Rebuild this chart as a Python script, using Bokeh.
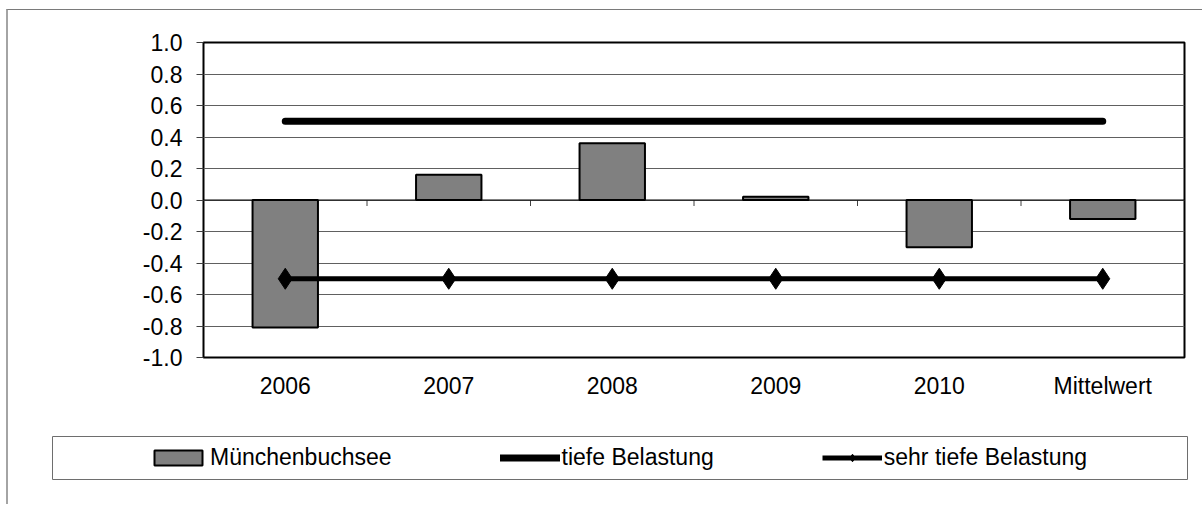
from bokeh.plotting import figure
from bokeh.layouts import column
from bokeh.models import (FactorRange, Range1d, FixedTicker, PrintfTickFormatter, Span,
                          Legend, LegendItem, ColumnDataSource)
from bokeh.embed import file_html
from bokeh.resources import INLINE

# ---- data ----
categories = ["2006", "2007", "2008", "2009", "2010", "Mittelwert"]
muenchenbuchsee = [-0.81, 0.16, 0.36, 0.02, -0.30, -0.12]
tiefe_belastung = [0.5, 0.5, 0.5, 0.5, 0.5, 0.5]
sehr_tiefe_belastung = [-0.5, -0.5, -0.5, -0.5, -0.5, -0.5]
y_ticks = [-1.0, -0.8, -0.6, -0.4, -0.2, 0.0, 0.2, 0.4, 0.6, 0.8, 1.0]
series_names = ["Münchenbuchsee", "tiefe Belastung", "sehr tiefe Belastung"]

FONT = "Liberation Sans"
OX, OY = 8, 10                 # page position of the content (inside chart border)
W = 1194
SPLIT = 420                    # page y where legend strip starts
HA, HB = SPLIT - OY, 84
FL, FR, FT, FB = 203 - OX, 1184 - OX, 42 - OY, 357 - OY   # chart frame edges (px)

BAR_STYLE = dict(fill_color="#808080", line_color="black", line_width=2)
L1_STYLE = dict(line_color="black", line_width=7, line_cap="round")
L2_STYLE = dict(line_color="black", line_width=5)
D_STYLE = dict(marker="diamond", fill_color="black", line_color="black")

# ---------------- chart ----------------
p = figure(width=W, height=HA, x_range=FactorRange(*categories),
           y_range=Range1d(y_ticks[0], y_ticks[-1]),
           output_backend="svg", toolbar_location=None,
           min_border_left=FL, min_border_right=W - FR,
           min_border_top=FT, min_border_bottom=HA - FB)
p.frame_align = False
p.background_fill_color = "white"
p.border_fill_color = "white"
p.outline_line_color = "black"
p.outline_line_width = 2

p.xgrid.grid_line_color = None
p.ygrid.ticker = FixedTicker(ticks=y_ticks)
p.ygrid.grid_line_color = "#606060"
p.ygrid.grid_line_width = 1

p.yaxis.ticker = FixedTicker(ticks=y_ticks)
p.yaxis.formatter = PrintfTickFormatter(format="%.1f")
p.yaxis.axis_line_color = None
p.yaxis.major_tick_line_color = "#404040"
p.yaxis.major_tick_out = 7
p.yaxis.major_tick_in = 0
p.yaxis.minor_tick_line_color = None
p.yaxis.major_label_text_font = FONT
p.yaxis.major_label_text_font_size = "23px"
p.yaxis.major_label_text_color = "black"
p.yaxis.major_label_standoff = 14

p.xaxis.axis_line_color = None
p.xaxis.major_tick_line_color = None
p.xaxis.minor_tick_line_color = None
p.xaxis.major_label_text_font = FONT
p.xaxis.major_label_text_font_size = "23px"
p.xaxis.major_label_text_color = "black"
p.xaxis.major_label_standoff = 9

src = ColumnDataSource(dict(cat=categories, val=muenchenbuchsee,
                            tiefe=tiefe_belastung, sehr=sehr_tiefe_belastung))
p.vbar(x="cat", top="val", bottom=0, width=0.4, source=src, **BAR_STYLE)

p.add_layout(Span(location=0, dimension="width", line_color="black", line_width=1))
px_per_unit = (FB - FT) / (y_ticks[-1] - y_ticks[0])
boundaries = list(range(1, len(categories)))
p.segment(x0=boundaries, x1=boundaries, y0=[0] * len(boundaries),
          y1=[-6 / px_per_unit] * len(boundaries), line_color="#404040", line_width=1)

p.line(x="cat", y="tiefe", source=src, **L1_STYLE)
p.line(x="cat", y="sehr", source=src, **L2_STYLE)
p.scatter(x="cat", y="sehr", source=src, size=21, **D_STYLE)

# ---------------- legend strip ----------------
LB_L, LB_R, LB_T, LB_B = 52 - OX, 1187 - OX, 436 - SPLIT, 479 - SPLIT
q = figure(width=W, height=HB, x_range=Range1d(0, 1), y_range=Range1d(0, 1),
           x_axis_type=None, y_axis_type=None,
           output_backend="svg", toolbar_location=None,
           min_border_left=LB_L, min_border_right=W - LB_R,
           min_border_top=LB_T, min_border_bottom=HB - LB_B)
q.frame_align = False
q.grid.visible = False
q.background_fill_color = "white"
q.border_fill_color = "white"
q.outline_line_color = "#6e6e6e"
q.outline_line_width = 1

# legend-only renderers (a single non-drawable NaN point so their key glyphs render)
nan = float("nan")
key_src = ColumnDataSource(dict(x=[nan], y=[nan], top=[nan]))
r1 = q.vbar(x="x", top="top", width=0.1, source=key_src, **BAR_STYLE)
r2 = q.line(x="x", y="y", source=key_src, **L1_STYLE)
r3 = q.line(x="x", y="y", source=key_src, **L2_STYLE)
r4 = q.scatter(x="x", y="y", source=key_src, size=12, **D_STYLE)

legend = Legend(items=[LegendItem(label=series_names[0], renderers=[r1]),
                       LegendItem(label=series_names[1], renderers=[r2]),
                       LegendItem(label=series_names[2], renderers=[r3, r4])],
                orientation="horizontal", location=(148 - 52, 8),
                padding=0, margin=0, spacing=108,
                glyph_width=60, glyph_height=19, label_height=19, label_standoff=2,
                label_text_font=FONT, label_text_font_size="23px", label_text_color="black",
                border_line_alpha=0, background_fill_alpha=0)
q.add_layout(legend)

layout = column(p, q, spacing=0, margin=(OY - 1, 0, 0, OX - 2),
                styles={"border-left": "2px solid #a4a4a4",
                        "border-top": "1px solid #7a7a7a"})
open("out.html", "w").write(file_html(layout, INLINE))
